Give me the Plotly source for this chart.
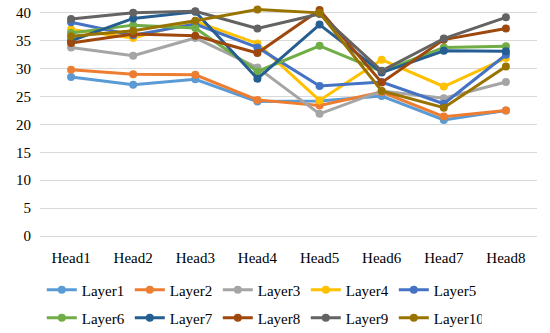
import plotly.graph_objects as go

heads = ["Head1", "Head2", "Head3", "Head4", "Head5", "Head6", "Head7", "Head8"]
layer_names = ["Layer1", "Layer2", "Layer3", "Layer4", "Layer5",
               "Layer6", "Layer7", "Layer8", "Layer9", "Layer10"]

layer1 = [28.5, 27.1, 28.1, 24.1, 24.2, 25.1, 20.8, 22.5]
layer2 = [29.8, 29.0, 28.9, 24.4, 23.4, 25.8, 21.4, 22.5]
layer3 = [33.8, 32.3, 35.5, 30.2, 21.9, 26.0, 24.7, 27.6]
layer4 = [37.0, 35.5, 38.5, 34.5, 24.3, 31.6, 26.8, 31.9]
layer5 = [38.3, 36.0, 38.0, 33.8, 26.9, 27.6, 23.7, 32.5]
layer6 = [36.4, 37.8, 37.3, 29.5, 34.1, 29.5, 33.8, 34.0]
layer7 = [35.0, 39.0, 40.2, 28.2, 37.9, 29.3, 33.2, 33.1]
layer8 = [34.6, 36.2, 35.9, 32.8, 40.5, 27.5, 35.2, 37.2]
layer9 = [38.9, 40.0, 40.3, 37.2, 39.8, 29.6, 35.4, 39.2]
layer10 = [35.8, 36.8, 38.6, 40.6, 40.0, 26.0, 23.0, 30.4]

series = [layer1, layer2, layer3, layer4, layer5,
          layer6, layer7, layer8, layer9, layer10]
colors = ["#5B9BD5", "#ED7D31", "#A5A5A5", "#FFC000", "#4472C4",
          "#70AD47", "#255E91", "#9E480E", "#636363", "#997300"]

y_ticks = [0, 5, 10, 15, 20, 25, 30, 35, 40]

fig = go.Figure()
for i, (name, vals, col) in enumerate(zip(layer_names, series, colors)):
    fig.add_trace(go.Scatter(
        x=heads, y=vals, name=name, mode="lines+markers",
        line=dict(color=col, width=3),
        marker=dict(color=col, size=8),
        cliponaxis=False,
        legend="legend" if i < 5 else "legend2",
    ))

font = dict(family="Liberation Serif", size=15, color="#000000")
legend_common = dict(
    orientation="h", xanchor="left", yanchor="middle",
    xref="container", yref="container",
    entrywidth=43, entrywidthmode="pixels",
    font=font, bgcolor="rgba(0,0,0,0)", itemwidth=30,
    tracegroupgap=0,
)

fig.update_layout(
    width=550, height=333,
    margin=dict(l=40, r=13, t=7, b=97, autoexpand=False),
    paper_bgcolor="white", plot_bgcolor="white",
    font=font,
    showlegend=True,
    legend=dict(x=0.076, y=0.129, **legend_common),
    legend2=dict(x=0.076, y=0.045, **legend_common),
    xaxis=dict(
        type="category", range=[-0.5, 7.5], showgrid=False,
        showline=True, linecolor="#D9D9D9", linewidth=1,
        ticks="", tickfont=font, zeroline=False, automargin=False,
        ticklabelstandoff=8,
    ),
    yaxis=dict(
        range=[0, 41.05], tickvals=y_ticks, showgrid=True,
        gridcolor="#D9D9D9", gridwidth=1, zeroline=False,
        showline=False, tickfont=font, ticks="", automargin=False,
        ticklabelstandoff=8,
    ),
)

fig.write_html(
    "out.html",
    config={"displayModeBar": False},
    post_script="document.body.style.margin='0';document.body.style.padding='0';",
)
